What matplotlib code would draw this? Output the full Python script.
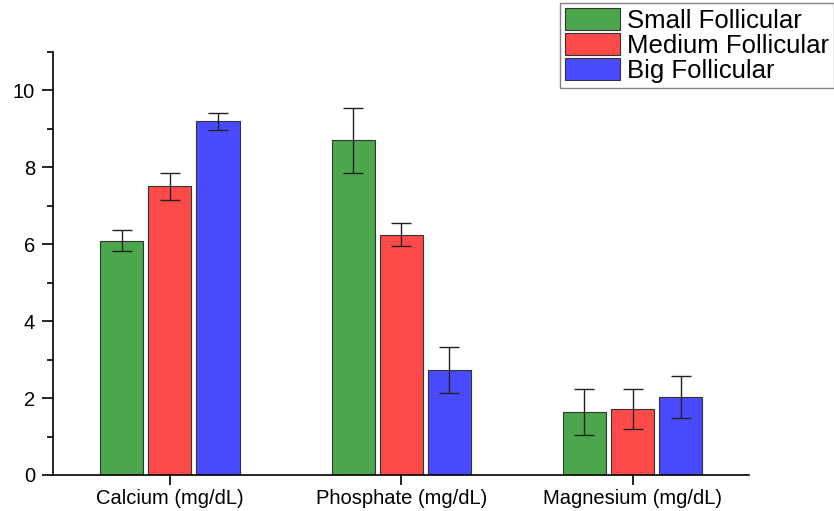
import matplotlib.pyplot as plt
import numpy as np
from matplotlib.ticker import MultipleLocator

plt.rcParams['font.family'] = ['Liberation Sans', 'DejaVu Sans']

categories = ["Calcium (mg/dL)", "Phosphate (mg/dL)", "Magnesium (mg/dL)"]
series = ["Small Follicular", "Medium Follicular", "Big Follicular"]
small = [6.09, 8.70, 1.64]
small_err = [0.28, 0.84, 0.60]
medium = [7.50, 6.25, 1.72]
medium_err = [0.34, 0.31, 0.52]
big = [9.19, 2.73, 2.03]
big_err = [0.23, 0.61, 0.55]
colors = ["#4ca64c", "#ff4a4a", "#4a4aff"]

fig = plt.figure(figsize=(8.34, 5.11), dpi=100)
ax = fig.add_axes([0.0636, 0.0705, 0.835, 0.828])

x = np.arange(len(categories))
step = 0.208
width = 0.186
for i, (vals, errs) in enumerate([(small, small_err), (medium, medium_err), (big, big_err)]):
    ax.bar(x + (i - 1) * step, vals, width, yerr=errs, color=colors[i],
           edgecolor="#333333", linewidth=0.8, label=series[i],
           error_kw=dict(ecolor="#222222", elinewidth=1, capsize=7, capthick=1))

ax.set_xlim(-0.505, 2.505)
ax.set_ylim(0, 11)
ax.set_xticks(x)
ax.set_xticklabels(categories, fontsize=14.5)
ax.yaxis.set_major_locator(MultipleLocator(2))
ax.yaxis.set_minor_locator(MultipleLocator(1))
ax.tick_params(axis='y', which='major', length=8, width=1.2, labelsize=14.5, pad=5)
ax.tick_params(axis='y', which='minor', length=4, width=1.2)
ax.tick_params(axis='x', length=7, width=1.2, pad=3)
ax.spines['top'].set_visible(False)
ax.spines['right'].set_visible(False)
ax.spines['left'].set_linewidth(1.2)
ax.spines['bottom'].set_linewidth(1.2)

leg = fig.legend(loc='upper left', bbox_to_anchor=(0.6715, 0.994), fontsize=18.5,
                 frameon=True, fancybox=False, edgecolor="#666666",
                 handlelength=2.15, handleheight=0.95, labelspacing=0.0,
                 handletextpad=0.25, borderpad=0.2, borderaxespad=0)
leg.get_frame().set_linewidth(1.0)

fig.savefig("out.png", dpi=100)
